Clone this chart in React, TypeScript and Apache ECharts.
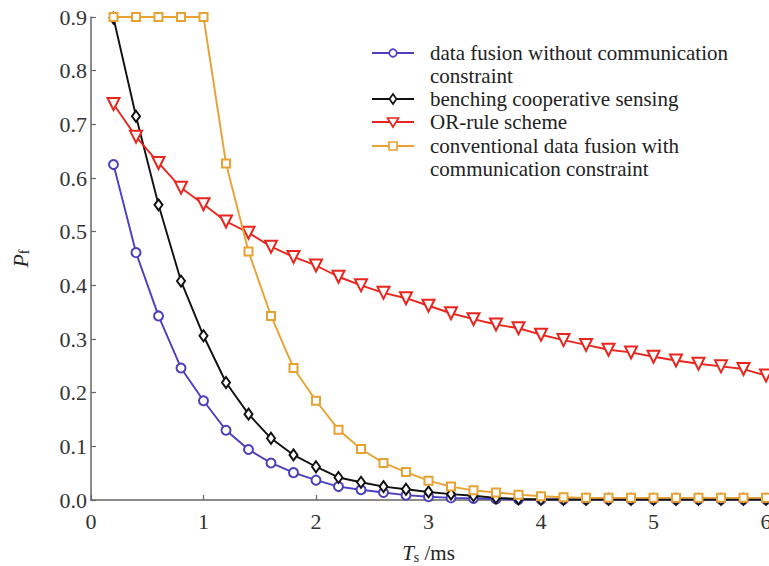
import React, { useEffect, useRef } from "react";
import * as echarts from "echarts";

const xValues = [0.2, 0.4, 0.6, 0.8, 1.0, 1.2, 1.4, 1.6, 1.8, 2.0, 2.2, 2.4, 2.6, 2.8, 3.0, 3.2, 3.4, 3.6, 3.8, 4.0, 4.2, 4.4, 4.6, 4.8, 5.0, 5.2, 5.4, 5.6, 5.8, 6.0];

const fusionNoConstraint = [0.625, 0.461, 0.343, 0.246, 0.185, 0.130, 0.094, 0.069, 0.051, 0.037, 0.025, 0.019, 0.014, 0.009, 0.006, 0.004, 0.003, 0.002, 0.001, 0.001, 0.001, 0.001, 0.001, 0.001, 0.001, 0.001, 0.001, 0.001, 0.001, 0.001];
const benching = [0.898, 0.715, 0.550, 0.408, 0.306, 0.219, 0.160, 0.115, 0.084, 0.062, 0.042, 0.033, 0.025, 0.020, 0.015, 0.011, 0.008, 0.004, 0.002, 0.001, 0.001, 0.001, 0.001, 0.001, 0.001, 0.001, 0.001, 0.001, 0.001, 0.001];
const orRule = [0.738, 0.677, 0.628, 0.582, 0.551, 0.519, 0.498, 0.472, 0.453, 0.437, 0.416, 0.400, 0.386, 0.376, 0.362, 0.348, 0.337, 0.327, 0.320, 0.308, 0.298, 0.289, 0.280, 0.275, 0.267, 0.260, 0.254, 0.249, 0.244, 0.232];
const conventional = [0.9, 0.9, 0.9, 0.9, 0.9, 0.627, 0.463, 0.343, 0.246, 0.185, 0.131, 0.095, 0.069, 0.052, 0.036, 0.025, 0.018, 0.014, 0.010, 0.007, 0.005, 0.004, 0.004, 0.004, 0.004, 0.004, 0.004, 0.004, 0.004, 0.004];

const seriesNames = [
  "data fusion without communication\nconstraint",
  "benching cooperative sensing",
  "OR-rule scheme",
  "conventional data fusion with\ncommunication constraint",
];
const seriesColors = ["#4a3fbd", "#111111", "#e8261e", "#e8a232"];
const xTicks = [0, 1, 2, 3, 4, 5, 6];
const yTicks = [0, 0.1, 0.2, 0.3, 0.4, 0.5, 0.6, 0.7, 0.8, 0.9];

const FONT = "'Liberation Serif', 'Times New Roman', serif";

export default function App() {
  const ref = useRef<HTMLDivElement>(null);
  useEffect(() => {
    if (!ref.current) return;
    const chart = echarts.init(ref.current, null, { renderer: "svg" });
    const values = [fusionNoConstraint, benching, orRule, conventional];
    const symbols = ["emptyCircle", "emptyDiamond", "emptyTriangle", "emptyRect"];
    const sizes: any[] = [9, [8, 11], 12, 8];
    const rotates = [0, 0, 180, 0];

    const series = values.map((vals, i) => ({
      type: "line",
      name: seriesNames[i],
      data: xValues.map((x, j) => [x, vals[j]]),
      symbol: symbols[i],
      symbolSize: sizes[i],
      symbolRotate: rotates[i],
      showAllSymbol: true,
      lineStyle: { color: seriesColors[i], width: 1.9 },
      itemStyle: { color: seriesColors[i], borderWidth: 1.7 },
      z: 2 + i,
    }));

    // legend drawn with graphic elements
    const legendY = [53, 99, 122, 146];
    const lx0 = 372, lx1 = 414, mx = 393, tx = 430;
    const legendEls: any[] = [];
    legendY.forEach((y, i) => {
      const c = seriesColors[i];
      legendEls.push({ type: "line", shape: { x1: lx0, y1: y, x2: lx1, y2: y }, style: { stroke: c, lineWidth: 2 } });
      const mstyle = { fill: "#fff", stroke: c, lineWidth: 1.7 };
      if (i === 0) legendEls.push({ type: "circle", shape: { cx: mx, cy: y, r: 3.8 }, style: mstyle });
      if (i === 1) legendEls.push({ type: "polygon", shape: { points: [[mx, y - 5], [mx + 3.5, y], [mx, y + 5], [mx - 3.5, y]] }, style: mstyle });
      if (i === 2) legendEls.push({ type: "polygon", shape: { points: [[mx - 5.5, y - 4], [mx + 5.5, y - 4], [mx, y + 5]] }, style: mstyle });
      if (i === 3) legendEls.push({ type: "rect", shape: { x: mx - 4, y: y - 4, width: 8, height: 8 }, style: mstyle });
      legendEls.push({
        type: "text",
        x: tx,
        y: y - 12,
        style: {
          text: seriesNames[i],
          fill: "#222",
          fontFamily: FONT,
          fontSize: 21,
          lineHeight: 23,
          verticalAlign: "top",
          align: "left",
        },
      });
    });

    chart.setOption({
      animation: false,
      backgroundColor: "#ffffff",
      grid: { left: 91, right: 3, top: 17, bottom: 66, containLabel: false, outerBoundsMode: "none" },
      xAxis: {
        type: "value",
        min: xTicks[0],
        max: xTicks[xTicks.length - 1],
        interval: 1,
        name: "{i|T}{s|s}{n| /ms}",
        nameLocation: "middle",
        nameGap: 42,
        nameTextStyle: {
          rich: {
            i: { fontFamily: FONT, fontStyle: "italic", fontSize: 21, color: "#222" },
            s: { fontFamily: FONT, fontSize: 14, color: "#222", verticalAlign: "bottom", padding: [8, 0, 0, 0] },
            n: { fontFamily: FONT, fontSize: 21, color: "#222" },
          },
        },
        axisLine: { lineStyle: { color: "#666", width: 1.5 } },
        axisTick: { inside: true, length: 5, lineStyle: { color: "#666", width: 1.2 } },
        axisLabel: { fontFamily: FONT, fontSize: 22, color: "#333", margin: 10 },
        splitLine: { show: false },
      },
      yAxis: {
        type: "value",
        min: yTicks[0],
        max: yTicks[yTicks.length - 1],
        interval: 0.1,
        name: "{i|P}{s|f}",
        nameLocation: "middle",
        nameRotate: 90,
        nameGap: 60,
        nameTextStyle: {
          rich: {
            i: { fontFamily: FONT, fontStyle: "italic", fontSize: 22, color: "#222" },
            s: { fontFamily: FONT, fontSize: 14, color: "#222", verticalAlign: "bottom", padding: [8, 0, 0, 0] },
          },
        },
        axisLine: { show: true, lineStyle: { color: "#666", width: 1.5 } },
        axisTick: { show: true, inside: true, length: 5, lineStyle: { color: "#666", width: 1.2 } },
        axisLabel: { fontFamily: FONT, fontSize: 22, color: "#333", margin: 4, formatter: (v: number) => v.toFixed(1) },
        splitLine: { show: false },
      },
      series,
      graphic: legendEls,
    });
    return () => chart.dispose();
  }, []);
  return (
    <div
      ref={ref}
      style={{ position: "fixed", left: 0, top: 0, width: 769, height: 566, background: "#fff" }}
    />
  );
}
